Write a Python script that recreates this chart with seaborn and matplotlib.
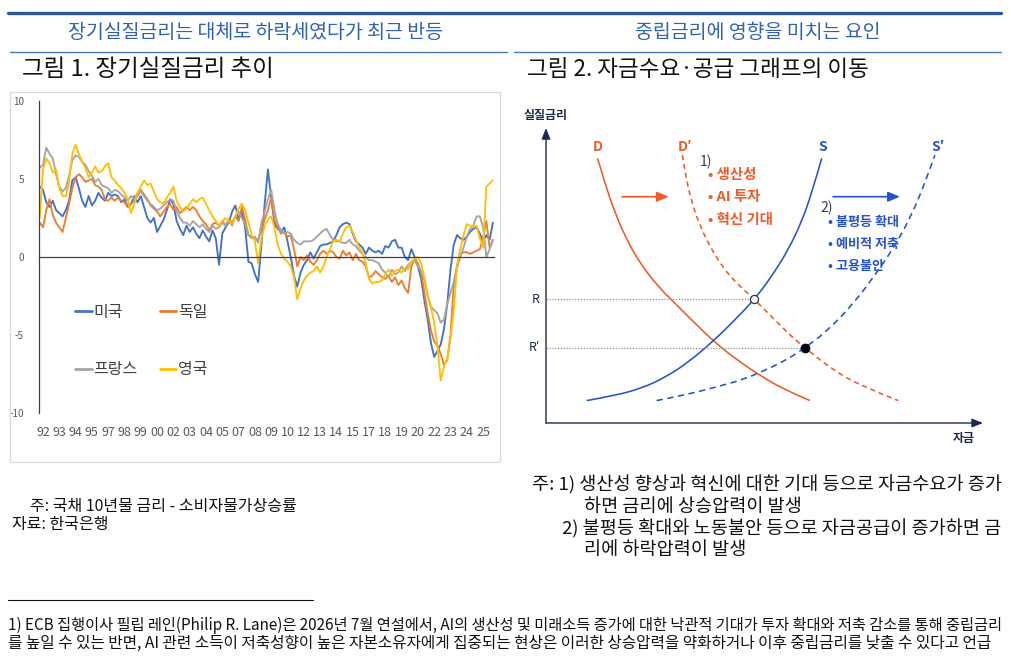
import numpy as np
import pandas as pd
import matplotlib
matplotlib.use("Agg")
import matplotlib.pyplot as plt
import seaborn as sns
from matplotlib.lines import Line2D
from matplotlib.patches import Rectangle, PathPatch
from matplotlib.path import Path

# ---------------- data: long-term real interest rates (%), quarterly readings ----------------
START_YEAR = 1991.75
STEP_YEAR = 0.25

us_rate = [4.5, 4.3, 3.5, 3.2, 3.6, 3.0, 2.8, 2.6, 3.0, 3.6,
           4.9, 5.1, 4.4, 3.6, 3.2, 3.9, 3.3, 3.6, 4.1, 3.8,
           3.6, 4.1, 3.9, 4.0, 3.9, 3.5, 3.7, 3.2, 3.4, 3.9,
           3.5, 3.9, 3.2, 2.5, 2.2, 2.5, 1.6, 2.0, 2.4, 3.0,
           3.7, 3.4, 2.3, 1.8, 1.4, 2.0, 1.6, 1.9, 1.5, 1.2,
           1.7, 1.3, 1.0, 1.7, 1.2, -0.5, 1.5, 1.9, 2.2, 2.9,
           3.3, 2.4, 2.9, 1.9, -0.3, -0.4, -1.1, -1.6, 0.8, 3.4,
           5.6, 3.8, 2.1, 1.8, 1.6, 1.9, 1.0, 0.0, -1.2, -1.9,
           -1.0, -0.5, -0.2, 0.3, -0.1, 0.3, 0.7, 0.8, 0.8, 0.9,
           1.0, 1.4, 1.9, 2.1, 2.2, 2.1, 1.5, 1.0, 0.8, 0.6,
           0.2, 0.6, 0.4, 0.3, 0.4, 0.2, 0.7, 0.6, 1.0, 1.1,
           0.6, 0.6, 0.0, -0.2, 0.5, 0.0, -0.6, -1.4, -2.8, -4.0,
           -5.5, -6.4, -6.0, -5.6, -4.6, -3.0, -0.8, 0.8, 1.4, 1.2,
           1.1, 1.3, 1.6, 1.8, 1.9, 1.5, 1.0, 1.4, 1.1, 2.2]

de_rate = [2.2, 1.9, 3.0, 3.7, 2.7, 2.2, 1.9, 1.6, 2.5, 3.4,
           4.4, 5.1, 5.3, 5.1, 4.8, 4.9, 5.0, 4.6, 4.5, 4.3,
           3.7, 3.6, 3.8, 3.6, 3.8, 3.6, 3.5, 3.2, 3.4, 3.6,
           3.9, 4.3, 4.0, 3.7, 3.3, 3.1, 2.9, 2.6, 2.9, 3.2,
           3.4, 3.0, 3.2, 2.8, 3.0, 3.2, 3.0, 3.2, 3.0, 2.6,
           2.3, 2.1, 1.7, 2.1, 2.2, 2.0, 2.3, 2.0, 2.4, 2.2,
           2.6, 2.3, 3.2, 2.4, 1.4, 1.3, 1.2, 1.1, 1.8, 2.4,
           3.0, 3.8, 2.4, 1.9, 1.5, 1.6, 1.3, 1.4, 0.5, -0.6,
           0.0, -0.2, 0.1, -0.3, -0.5, -0.2, 0.2, 0.4, 0.2, 0.4,
           0.3, 0.0, -0.1, 0.4, 0.1, 0.3, -0.2, 0.2, -0.2, -0.3,
           -0.6, -1.3, -1.2, -0.9, -1.1, -1.3, -1.4, -1.2, -1.6, -1.3,
           -1.8, -1.5, -2.0, -2.3, -0.6, -0.1, -0.4, -1.0, -2.3, -3.6,
           -4.7, -5.4, -5.7, -6.2, -6.9, -6.6, -5.0, -1.8, -0.5, 0.2,
           0.3, 0.3, 0.2, 0.3, 0.4, 0.5, 1.2, 2.3, 0.6, 1.1]

fr_rate = [5.7, 5.9, 7.0, 6.6, 6.3, 5.3, 4.5, 4.2, 4.4, 5.2,
           6.2, 6.5, 6.4, 6.1, 5.9, 5.5, 5.2, 4.8, 5.0, 4.6,
           4.5, 4.4, 4.1, 4.3, 4.2, 4.0, 3.8, 3.6, 3.9, 3.7,
           4.1, 4.2, 3.9, 3.6, 3.4, 3.2, 3.0, 3.1, 3.3, 3.5,
           3.7, 3.6, 2.9, 2.5, 2.2, 2.2, 2.0, 2.3, 2.1, 1.9,
           2.1, 1.8, 1.6, 2.0, 1.8, 1.9, 2.2, 2.0, 2.3, 2.0,
           2.6, 2.9, 2.5, 2.1, 1.4, 1.2, 1.3, 0.9, 2.2, 2.9,
           3.7, 4.3, 3.0, 2.1, 1.7, 1.5, 1.6, 1.5, 1.1, 0.9,
           0.8, 1.0, 1.0, 1.0, 1.1, 1.3, 1.5, 1.7, 1.8, 1.4,
           1.1, 1.0, 1.0, 0.9, 0.9, 1.1, 0.8, 0.7, 0.4, 0.2,
           0.0, -0.2, -0.2, -0.3, -0.4, -0.8, -1.0, -1.3, -0.8, -1.1,
           -1.0, -0.6, -0.9, -0.5, -0.3, -0.2, -0.6, -0.9, -1.5, -2.5,
           -3.2, -3.4, -3.6, -4.2, -4.0, -3.0, -2.3, -1.6, -0.7, 0.0,
           0.6, 1.3, 1.8, 2.0, 2.6, 2.6, 1.9, 0.0, 0.5, 1.1]

uk_rate = [2.5, 5.6, 6.3, 6.0, 5.4, 5.6, 4.4, 3.9, 3.9, 4.8,
           6.6, 7.2, 6.6, 6.1, 5.7, 5.1, 5.4, 5.8, 5.4, 5.5,
           5.8, 6.0, 5.1, 4.9, 4.6, 4.4, 4.1, 3.7, 2.8, 3.4,
           4.1, 4.5, 4.9, 4.6, 4.7, 4.2, 3.7, 3.5, 3.4, 3.8,
           4.1, 4.5, 3.6, 3.2, 2.9, 3.1, 3.4, 3.7, 3.5, 3.7,
           3.8, 3.4, 3.0, 2.6, 2.3, 2.0, 2.3, 2.5, 2.3, 2.1,
           2.6, 3.1, 3.4, 3.0, 2.2, 1.4, 1.0, -0.4, 1.2, 2.0,
           2.4, 2.6, 1.9, 0.8, 0.2, -0.1, -0.3, -0.6, -1.3, -2.7,
           -2.0, -1.5, -1.2, -1.0, -0.9, -0.6, -1.0, -0.6, 0.0, 0.5,
           1.0, 1.1, 1.0, 1.5, 1.9, 2.0, 1.6, 1.1, 0.6, 0.3,
           -0.4, -1.4, -1.7, -1.6, -1.6, -1.5, -1.1, -0.8, -1.2, -0.9,
           -0.8, -1.0, -0.7, -0.8, -0.3, -0.1, 0.0, -0.4, -1.3, -2.4,
           -3.2, -4.2, -5.7, -7.9, -7.0, -6.5, -5.2, -3.4, -0.6, 0.5,
           1.4, 2.1, 2.0, 1.9, 2.0, 1.2, 0.6, 4.5, 4.7, 4.9]

country_names = ["미국", "독일", "프랑스", "영국"]
country_colors = ["#4472C4", "#ED7D31", "#A5A5A5", "#FFC000"]
year_labels = ["92", "93", "94", "95", "97", "98", "99", "00", "02", "03", "04", "05", "07", "08",
               "09", "10", "12", "13", "14", "15", "17", "18", "19", "20", "22", "23", "24", "25"]
y_ticks = [-10, -5, 0, 5, 10]

# ---------------- data: loanable funds diagram (quantity, real rate; 0-10 scale) ----------------
D_q = [1.18, 1.35, 1.54, 1.81, 2.15, 2.57, 2.95, 3.41, 3.83, 4.32, 4.94, 5.47, 6.04]
D_r = [8.97, 8.13, 7.28, 6.32, 5.41, 4.62, 4.06, 3.38, 2.78, 2.19, 1.57, 1.12, 0.76]
Dp_q = [3.12, 3.20, 3.32, 3.50, 3.75, 4.06, 4.40, 4.77, 5.24, 5.62, 5.93, 6.46, 7.15, 8.06]
Dp_r = [9.08, 8.35, 7.56, 6.77, 5.98, 5.24, 4.68, 4.19, 3.49, 2.93, 2.55, 1.91, 1.29, 0.76]
S_q = [0.93, 1.58, 2.19, 2.72, 3.26, 3.83, 4.32, 4.77, 5.16, 5.54, 5.85, 6.08, 6.31]
S_r = [0.76, 0.93, 1.18, 1.54, 2.06, 2.78, 3.49, 4.19, 4.96, 5.86, 6.82, 7.79, 8.97]
Sp_q = [2.53, 3.18, 3.87, 4.48, 4.94, 5.47, 5.93, 6.46, 7.07, 7.53, 7.95, 8.33, 8.64, 8.90]
Sp_r = [0.76, 0.95, 1.21, 1.46, 1.74, 2.11, 2.55, 3.15, 4.11, 5.02, 5.92, 6.94, 8.01, 9.08]
eq_old = [4.77, 4.19]   # R  : S  x D'
eq_new = [5.93, 2.55]   # R' : S' x D'
demand_factors = ["• 생산성", "• AI 투자", "• 혁신 기대"]
supply_factors = ["• 불평등 확대", "• 예비적 저축", "• 고용불안"]

n = len(us_rate)
assert len(de_rate) == n and len(fr_rate) == n and len(uk_rate) == n

# ---------------- styling ----------------
sns.set_theme(style="white")
plt.rcParams["font.family"] = ["Noto Sans CJK KR", "DejaVu Sans"]
plt.rcParams["axes.unicode_minus"] = False

W, H = 1011, 660
fig = plt.figure(figsize=(W / 100, H / 100), dpi=100)
fig.patch.set_facecolor("white")
PX = 0.72  # points per pixel


def fx(x):
    return x / W


def fy(y):
    return 1 - y / H


def fit_width(t, width):
    r = fig.canvas.get_renderer()
    w = t.get_window_extent(renderer=r).width
    t.set_fontsize(t.get_fontsize() * width / w)
    return t


def ftext(x, y, s, size_px, **kw):
    kw.setdefault("va", "center")
    return fig.text(fx(x), fy(y), s, fontsize=size_px * PX, **kw)


def smooth_curve(qs, rs):
    """Quadratic-spline path that uses the read curve points as control points."""
    pts = np.column_stack([qs, rs])
    verts, codes = [pts[0]], [Path.MOVETO]
    last = len(pts) - 2
    for i in range(1, len(pts) - 1):
        end = pts[i + 1] if i == last else (pts[i] + pts[i + 1]) / 2
        verts += [pts[i], end]
        codes += [Path.CURVE3, Path.CURVE3]
    return Path(verts, codes)


# ---------------- page header ----------------
fig.add_artist(Line2D([fx(8), fx(1001)], [fy(13.3)] * 2, color="#2B579A", lw=3.3 * PX))
ftext(256, 33, "장기실질금리는 대체로 하락세였다가 최근 반등", 19.5, ha="center", color="#2F62B4")
ftext(758, 33, "중립금리에 영향을 미치는 요인", 19.5, ha="center", color="#2F62B4")
fig.add_artist(Line2D([fx(10), fx(507)], [fy(52.3)] * 2, color="#4A78BE", lw=1.4 * PX))
fig.add_artist(Line2D([fx(514), fx(1001)], [fy(52.3)] * 2, color="#4A78BE", lw=1.4 * PX))
fit_width(ftext(21.7, 69, "그림 1. 장기실질금리 추이", 19, ha="left", color="#111111"), 252)
fit_width(ftext(527, 69, "그림 2. 자금수요·공급 그래프의 이동", 19, ha="left", color="#111111"), 342)

# chart frame
fig.add_artist(Rectangle((fx(10), fy(462)), (500 - 10) / W, (462 - 92) / H,
                         transform=fig.transFigure, fill=False, ec="#D9D9D9", lw=0.9))

# ---------------- left: line chart ----------------
years = START_YEAR + STEP_YEAR * np.arange(n)
df = pd.DataFrame({
    "year": np.tile(years, 4),
    "value": us_rate + de_rate + fr_rate + uk_rate,
    "country": np.repeat(country_names, n),
})
palette = dict(zip(country_names, country_colors))

ax = fig.add_axes([fx(39.3), fy(413.3), (494 - 39.3) / W, (413.3 - 100.7) / H])
sns.lineplot(data=df, x="year", y="value", hue="country", hue_order=country_names,
             palette=palette, linewidth=1.35, estimator=None, legend=False, ax=ax)
ax.set_xlim(1991.716, 2026.586)
ax.set_ylim(-10, 10)
ax.set_xlabel("")
ax.set_ylabel("")
ax.patch.set_alpha(0)
for side in ["top", "right"]:
    ax.spines[side].set_visible(False)
ax.spines["bottom"].set_position(("data", 0))
for side in ["left", "bottom"]:
    ax.spines[side].set_color("#404040")
    ax.spines[side].set_linewidth(0.9)

ax.set_yticks(y_ticks)
ax.set_yticklabels([str(v) for v in y_ticks])
ax.tick_params(axis="y", direction="out", length=2, width=0.8, color="#404040",
               pad=9, labelsize=10 * PX, labelcolor="#595959")
tick_marks = [1991.716 + 1.684 * k for k in range(1, 21)]
ax.set_xticks(tick_marks)
ax.set_xticklabels([])
ax.tick_params(axis="x", direction="in", length=3, width=0.8, color="#404040")

sec = ax.secondary_xaxis("bottom")
sec.set_xticks([1992 + 1.25 * i for i in range(len(year_labels))], labels=year_labels)
sec.tick_params(length=0, pad=9, labelsize=12.5 * PX, labelcolor="#595959")
sec.spines["bottom"].set_visible(False)

leg_order = ["미국", "프랑스", "독일", "영국"]
handles = [Line2D([], [], color=palette[c], lw=2.0) for c in leg_order]
leg = ax.legend(handles, leg_order, ncol=2, loc="center left",
                bbox_to_anchor=(fx(75), fy(341)), bbox_transform=fig.transFigure,
                frameon=False, fontsize=16 * PX, handlelength=1.05, handletextpad=0.12,
                columnspacing=1.35, labelspacing=2.55, borderpad=0, borderaxespad=0)
for t in leg.get_texts():
    t.set_color("#404040")

# notes below left chart
ftext(30, 506.7, "주: 국채 10년물 금리 - 소비자물가상승률", 16, ha="left", color="#111111")
ftext(11.7, 524.5, "자료: 한국은행", 16, ha="left", color="#111111")

# ---------------- right: loanable funds diagram ----------------
ORANGE = "#F05A28"
BLUE = "#2553CC"
NAVY = "#1C2B4B"

axd = fig.add_axes([fx(546), fy(423), 437 / W, 295 / H])
axd.set_xlim(0, 10)
axd.set_ylim(0, 10)
axd.axis("off")

# R, R' guide lines
axd.plot([0, eq_old[0]], [eq_old[1], eq_old[1]], color="#8A8FA8", lw=0.9, ls=(0, (1, 1.3)))
axd.plot([0, eq_new[0]], [eq_new[1], eq_new[1]], color="#8A8FA8", lw=0.9, ls=(0, (1, 1.3)))

curves = [(D_q, D_r, ORANGE, "-"), (Dp_q, Dp_r, ORANGE, (0, (3.2, 2.4))),
          (S_q, S_r, BLUE, "-"), (Sp_q, Sp_r, BLUE, (0, (4.0, 2.8)))]
for qs, rs, col, ls in curves:
    axd.add_patch(PathPatch(smooth_curve(qs, rs), fill=False, edgecolor=col, lw=1.15,
                            linestyle=ls, capstyle="butt"))

axd.scatter([eq_old[0]], [eq_old[1]], s=34, facecolor="white", edgecolor="#333333",
            linewidth=0.9, zorder=6)
axd.scatter([eq_new[0]], [eq_new[1]], s=36, color="black", zorder=6)

# axes arrows
arrow_kw = dict(arrowstyle="-|>,head_length=0.55,head_width=0.22", color=NAVY, lw=1.0,
                shrinkA=0, shrinkB=0)
axd.annotate("", xy=(0, 10), xytext=(0, 0), arrowprops=arrow_kw, annotation_clip=False)
axd.annotate("", xy=(10, 0), xytext=(0, 0), arrowprops=arrow_kw, annotation_clip=False)

axd.text(0, 10.44, "실질금리", ha="center", va="center", fontsize=12 * PX,
         fontweight="bold", color=NAVY)
axd.text(9.57, -0.52, "자금", ha="center", va="center", fontsize=12 * PX,
         fontweight="bold", color=NAVY)
axd.text(-0.14, eq_old[1], "R", ha="right", va="center", fontsize=12.5 * PX, color=NAVY)
axd.text(-0.14, eq_new[1], "R′", ha="right", va="center", fontsize=12.5 * PX, color=NAVY)

axd.text(1.06, 9.37, "D", ha="left", va="center", fontsize=14 * PX, fontweight="bold", color=ORANGE)
axd.text(3.01, 9.37, "D′", ha="left", va="center", fontsize=14 * PX, fontweight="bold", color=ORANGE)
axd.text(6.23, 9.37, "S", ha="left", va="center", fontsize=14 * PX, fontweight="bold", color=BLUE)
axd.text(8.81, 9.37, "S′", ha="left", va="center", fontsize=14 * PX, fontweight="bold", color=BLUE)

axd.text(3.52, 8.86, "1)", ha="left", va="center", fontsize=14 * PX, color="#333D55")
axd.text(6.27, 7.28, "2)", ha="left", va="center", fontsize=14 * PX, color="#333D55")

t_ref = fit_width(axd.text(3.71, 6.88, demand_factors[2], ha="left", va="center",
                           fontsize=14 * PX, fontweight="bold", color=ORANGE), 65)
for yv, s in zip([8.41, 7.67], demand_factors[:2]):
    axd.text(3.71, yv, s, ha="left", va="center", fontsize=t_ref.get_fontsize(),
             fontweight="bold", color=ORANGE)
t_ref2 = fit_width(axd.text(6.46, 6.82, supply_factors[0], ha="left", va="center",
                            fontsize=13 * PX, fontweight="bold", color=BLUE), 71.7)
for yv, s in zip([6.07, 5.32], supply_factors[1:]):
    axd.text(6.46, yv, s, ha="left", va="center", fontsize=t_ref2.get_fontsize(),
             fontweight="bold", color=BLUE)

shift_kw = dict(arrowstyle="-|>,head_length=0.6,head_width=0.25", lw=1.2, shrinkA=0, shrinkB=0)
axd.annotate("", xy=(2.81, 7.67), xytext=(1.74, 7.67), arrowprops=dict(color=ORANGE, **shift_kw))
axd.annotate("", xy=(8.10, 7.67), xytext=(6.57, 7.67), arrowprops=dict(color=BLUE, **shift_kw))

# notes below diagram
t_r1 = fit_width(ftext(532, 485, "주: 1) 생산성 향상과 혁신에 대한 기대 등으로 자금수요가 증가", 16,
                       ha="left", color="#111111"), 470)
fs = t_r1.get_fontsize() / PX
ftext(584, 507, "하면 금리에 상승압력이 발생", fs, ha="left", color="#111111")
ftext(562, 528.5, "2) 불평등 확대와 노동불안 등으로 자금공급이 증가하면 금", fs, ha="left", color="#111111")
ftext(584, 550, "리에 하락압력이 발생", fs, ha="left", color="#111111")

# ---------------- footnote ----------------
fig.add_artist(Line2D([fx(8), fx(313)], [fy(600)] * 2, color="#111111", lw=0.8))
fit_width(ftext(8, 625, "1) ECB 집행이사 필립 레인(Philip R. Lane)은 2026년 7월 연설에서, AI의 생산성 및 "
                        "미래소득 증가에 대한 낙관적 기대가 투자 확대와 저축 감소를 통해 중립금리",
                13, ha="left", color="#111111"), 1000)
fit_width(ftext(8, 643, "를 높일 수 있는 반면, AI 관련 소득이 저축성향이 높은 자본소유자에게 집중되는 현상은 "
                        "이러한 상승압력을 약화하거나 이후 중립금리를 낮출 수 있다고 언급",
                13, ha="left", color="#111111"), 990)

fig.savefig("out.png", dpi=100, facecolor="white")
